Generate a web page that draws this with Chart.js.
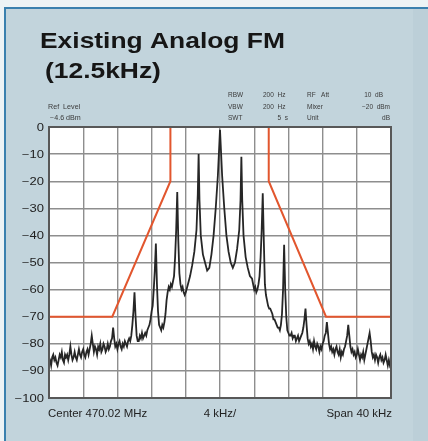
<!DOCTYPE html>
<html>
<head>
<meta charset="UTF-8">
<title>Existing Analog FM (12.5kHz)</title>
<script src="https://cdn.jsdelivr.net/npm/chart.js@4.4.1/dist/chart.umd.min.js"></script>
<style>
  html, body { margin: 0; padding: 0; background: #edf3f5; overflow: hidden; }
  #panel {
    position: absolute; left: 4px; top: 7px; width: 440px; height: 450px;
    background: #c2d4dc; border: 2px solid #3a80ae;
  }
  #strip { position: absolute; left: 413px; top: 9px; width: 20px; height: 440px; background: #bccfd8; }
  #c { position: absolute; left: 0; top: 0; }
</style>
</head>
<body>
<div id="panel"></div>
<div id="strip"></div>
<canvas id="c" width="428" height="441"></canvas>
<script>
// spectrum trace: [kHz from centre, level dB]
var traceSamples = [
  [-20, -85], [-19.875, -86], [-19.75, -88], [-19.625, -85], [-19.5, -84], [-19.375, -86],
  [-19.25, -85], [-19.125, -87], [-19, -88], [-18.875, -86], [-18.75, -84], [-18.625, -85],
  [-18.5, -83], [-18.375, -86], [-18.25, -87], [-18.125, -84], [-18, -85], [-17.875, -84],
  [-17.75, -86], [-17.625, -84], [-17.5, -81], [-17.375, -84], [-17.25, -86], [-17.125, -85],
  [-17, -83], [-16.875, -85], [-16.75, -86], [-16.625, -84], [-16.5, -82], [-16.375, -84],
  [-16.25, -85], [-16.125, -83], [-16, -82], [-15.875, -84], [-15.75, -85], [-15.625, -83],
  [-15.5, -82], [-15.375, -84], [-15.25, -82], [-15.125, -80], [-15, -77], [-14.875, -80],
  [-14.75, -83], [-14.625, -81], [-14.5, -82], [-14.375, -84], [-14.25, -81], [-14.125, -82],
  [-14, -80], [-13.875, -83], [-13.75, -82], [-13.625, -80], [-13.5, -81], [-13.375, -83],
  [-13.25, -82], [-13.125, -80], [-13, -82], [-12.875, -81], [-12.75, -79], [-12.625, -78],
  [-12.5, -74], [-12.375, -78], [-12.25, -81], [-12.125, -80], [-12, -82], [-11.875, -80],
  [-11.75, -79], [-11.625, -81], [-11.5, -82], [-11.375, -80], [-11.25, -81], [-11.125, -79],
  [-11, -80], [-10.875, -81], [-10.75, -79], [-10.625, -78], [-10.5, -79], [-10.375, -77],
  [-10.25, -73], [-10.125, -68], [-10, -61], [-9.875, -70], [-9.75, -77], [-9.625, -79],
  [-9.5, -79], [-9.375, -77], [-9.25, -78], [-9.125, -76], [-9, -78], [-8.875, -77],
  [-8.75, -76], [-8.625, -77], [-8.5, -75], [-8.375, -74], [-8.25, -73], [-8.125, -71],
  [-8, -68], [-7.875, -66], [-7.75, -60], [-7.625, -53], [-7.5, -43], [-7.375, -58],
  [-7.25, -68], [-7.125, -73], [-7, -74], [-6.875, -75], [-6.75, -73], [-6.625, -74],
  [-6.5, -72], [-6.375, -69], [-6.25, -64], [-6.125, -61], [-6, -59], [-5.875, -60],
  [-5.75, -58], [-5.625, -59], [-5.5, -57], [-5.375, -55], [-5.25, -48], [-5.125, -38],
  [-5, -24], [-4.875, -42], [-4.75, -54], [-4.625, -58], [-4.5, -60], [-4.375, -59],
  [-4.25, -61], [-4.125, -62], [-4, -61], [-3.75, -58], [-3.5, -55], [-3.25, -51],
  [-3, -46], [-2.75, -38], [-2.6, -25], [-2.5, -10], [-2.4, -27], [-2.25, -40],
  [-2, -47], [-1.75, -50], [-1.5, -53], [-1.25, -52], [-1, -47], [-0.75, -40],
  [-0.5, -30], [-0.25, -18], [0, -1], [0.25, -18], [0.5, -30], [0.75, -40],
  [1, -46], [1.25, -50], [1.5, -52], [1.75, -50], [2, -45], [2.25, -38],
  [2.4, -27], [2.5, -11], [2.6, -27], [2.75, -40], [3, -48], [3.25, -52],
  [3.5, -55], [3.75, -56], [4, -60], [4.125, -59], [4.25, -61], [4.375, -60],
  [4.5, -58], [4.625, -55], [4.75, -48], [4.875, -38], [5, -24.5], [5.125, -42],
  [5.25, -58], [5.375, -62], [5.5, -64], [5.625, -66], [5.75, -67], [5.875, -67],
  [6, -68], [6.125, -69], [6.25, -71], [6.375, -71], [6.5, -72], [6.625, -73],
  [6.75, -74], [6.875, -74], [7, -75], [7.125, -73], [7.25, -69], [7.375, -60],
  [7.5, -43.5], [7.625, -60], [7.75, -70], [7.875, -75], [8, -76], [8.125, -77],
  [8.25, -77], [8.375, -76], [8.5, -78], [8.625, -77], [8.75, -77], [8.875, -79],
  [9, -78], [9.125, -77], [9.25, -79], [9.375, -78], [9.5, -77], [9.625, -76],
  [9.75, -74], [9.875, -71], [10, -67], [10.125, -73], [10.25, -78], [10.375, -80],
  [10.5, -79], [10.625, -81], [10.75, -80], [10.875, -82], [11, -79], [11.125, -81],
  [11.25, -82], [11.375, -80], [11.5, -81], [11.625, -83], [11.75, -81], [11.875, -82],
  [12, -80], [12.125, -79], [12.25, -77], [12.375, -76], [12.5, -72], [12.625, -76],
  [12.75, -80], [12.875, -82], [13, -81], [13.125, -83], [13.25, -82], [13.375, -84],
  [13.5, -82], [13.625, -81], [13.75, -83], [13.875, -84], [14, -82], [14.125, -85],
  [14.25, -83], [14.375, -84], [14.5, -82], [14.625, -81], [14.75, -79], [14.875, -77],
  [15, -73], [15.125, -77], [15.25, -81], [15.375, -83], [15.5, -82], [15.625, -84],
  [15.75, -83], [15.875, -85], [16, -84], [16.125, -82], [16.25, -84], [16.375, -86],
  [16.5, -84], [16.625, -85], [16.75, -83], [16.875, -86], [17, -84], [17.125, -82],
  [17.25, -80], [17.375, -78], [17.5, -76], [17.625, -79], [17.75, -83], [17.875, -85],
  [18, -84], [18.125, -86], [18.25, -84], [18.375, -85], [18.5, -87], [18.625, -85],
  [18.75, -84], [18.875, -86], [19, -85], [19.125, -87], [19.25, -86], [19.375, -84],
  [19.5, -86], [19.625, -88], [19.75, -86], [19.875, -88], [20, -87]
];

// emission mask (red)
var maskKHz = [-20, -12.6, -5.8, -5.8, 5.7, 5.7, 12.4, 20];
var maskDb  = [-70, -70, -20, 0, 0, -20, -70, -70];

var yTicks = [0, -10, -20, -30, -40, -50, -60, -70, -80, -90, -100];

var titleLines = ['Existing Analog FM', '(12.5kHz)'];
var refLabels = ['Ref  Level', '\u22124.6 dBm'];
var setupCols = [
  ['RBW', 'VBW', 'SWT'],
  ['200  Hz', '200  Hz', '5  s'],
  ['RF   Att', 'Mixer', 'Unit'],
  ['10  dB', '\u221220  dBm', 'dB']
];
var xLabels = ['Center 470.02 MHz', '4 kHz/', 'Span 40 kHz'];

function txt(ctx, s, x, y, font, align, sx, color) {
  ctx.save();
  ctx.font = font;
  ctx.fillStyle = color || '#1c1c1c';
  ctx.textBaseline = 'alphabetic';
  var w = ctx.measureText(s).width * sx;
  var left = align === 'right' ? x - w : (align === 'center' ? x - w / 2 : x);
  ctx.translate(left, y);
  ctx.scale(sx, 1);
  ctx.textAlign = 'left';
  ctx.fillText(s, 0, 0);
  ctx.restore();
}

var decor = {
  id: 'decor',
  beforeDraw: function(chart) {
    var a = chart.chartArea, ctx = chart.ctx;
    ctx.save();
    ctx.fillStyle = '#ffffff';
    ctx.fillRect(a.left, a.top, a.right - a.left, a.bottom - a.top);
    ctx.restore();
  },
  afterDraw: function(chart) {
    var a = chart.chartArea, ctx = chart.ctx, ys = chart.scales.y;
    ctx.save();
    ctx.strokeStyle = '#585858';
    ctx.lineWidth = 2;
    ctx.strokeRect(a.left, a.top, a.right - a.left, a.bottom - a.top);
    ctx.restore();

    // title
    txt(ctx, titleLines[0], 40, 48, 'bold 22px "Liberation Sans", Arial, sans-serif', 'left', 1.2, '#161616');
    txt(ctx, titleLines[1], 45, 78, 'bold 22px "Liberation Sans", Arial, sans-serif', 'left', 1.2, '#161616');

    // instrument settings
    var sm = '6.5px "Liberation Sans", Arial, sans-serif', gc = '#3a3a3a';
    var rows = [97, 108.5, 119.5];
    txt(ctx, refLabels[0], 48, rows[1], sm, 'left', 1.1, gc);
    txt(ctx, refLabels[1], 50, rows[2], sm, 'left', 1.1, gc);
    for (var r = 0; r < 3; r++) {
      txt(ctx, setupCols[0][r], 228, rows[r], sm, 'left', 1.0, gc);
      txt(ctx, setupCols[1][r], r === 2 ? 288 : 263, rows[r], sm, r === 2 ? 'right' : 'left', 1.0, gc);
      txt(ctx, setupCols[2][r], 307, rows[r], sm, 'left', 1.0, gc);
      txt(ctx, setupCols[3][r], r === 0 ? 383 : 390, rows[r], sm, 'right', 1.0, gc);
    }

    // level axis labels from the y scale
    yTicks.forEach(function(v) {
      var py = ys.getPixelForValue(v);
      var s = v < 0 ? '\u2212' + Math.abs(v) : String(v);
      txt(ctx, s, 44, py + 3.5, '10px "Liberation Sans", Arial, sans-serif', 'right', 1.3, '#222');
    });

    // frequency labels
    var xf = '10.5px "Liberation Sans", Arial, sans-serif';
    txt(ctx, xLabels[0], a.left - 1, 417, xf, 'left', 1.09, '#222');
    txt(ctx, xLabels[1], (a.left + a.right) / 2, 417, xf, 'center', 1.09, '#222');
    txt(ctx, xLabels[2], a.right + 1, 417, xf, 'right', 1.09, '#222');
  }
};

new Chart(document.getElementById('c'), {
  type: 'line',
  data: {
    datasets: [
      {
        data: maskKHz.map(function(x, i) { return { x: x, y: maskDb[i] }; }),
        borderColor: '#e2562e',
        borderWidth: 2,
        pointRadius: 0,
        tension: 0
      },
      {
        data: traceSamples.map(function(p) { return { x: p[0], y: p[1] }; }),
        borderColor: '#262626',
        borderWidth: 1.8,
        pointRadius: 0,
        tension: 0
      }
    ]
  },
  options: {
    responsive: false,
    animation: false,
    devicePixelRatio: 1,
    layout: { padding: { left: 49, top: 127, right: 37, bottom: 43 } },
    plugins: { legend: { display: false }, title: { display: false }, tooltip: { enabled: false } },
    scales: {
      x: {
        type: 'linear', min: -20, max: 20,
        ticks: { display: false, stepSize: 4 },
        grid: { color: '#8e8e8e', lineWidth: 1.4, drawTicks: false },
        border: { display: false }
      },
      y: {
        type: 'linear', min: -100, max: 0,
        ticks: { display: false, stepSize: 10 },
        grid: { color: '#8e8e8e', lineWidth: 1.4, drawTicks: false },
        border: { display: false }
      }
    }
  },
  plugins: [decor]
});
</script>
</body>
</html>
